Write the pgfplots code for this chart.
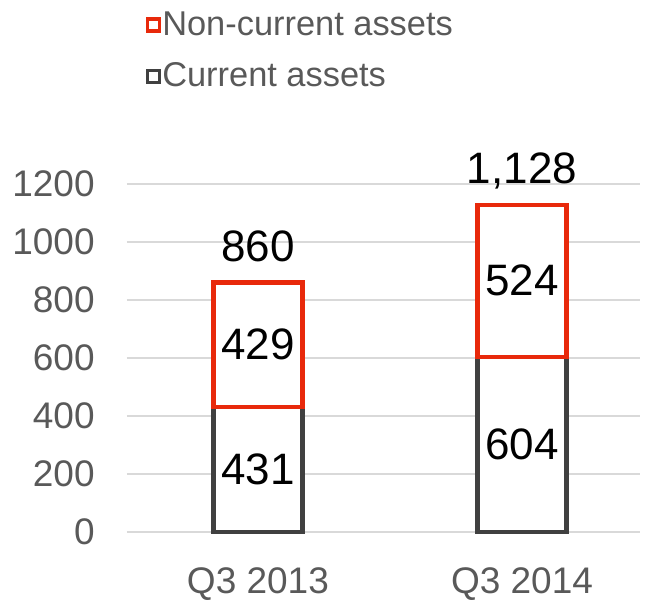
\documentclass[border=0pt]{standalone}
\usepackage{fontspec}
\setmainfont{Liberation Sans}
\usepackage{pgfplots}
\usepackage{pgfplotstable}
\pgfplotsset{compat=1.18}
\definecolor{noncur}{HTML}{E8290B}
\definecolor{cur}{HTML}{404040}
\definecolor{txtgray}{HTML}{595959}
\definecolor{gridgray}{HTML}{D9D9D9}

\pgfplotstableread{
x cur noncur total
0 431 429 860
1 604 524 1128
}\assets

% label positions (middle of each segment)
\pgfplotstableread{
x mid label
0 215.5 431
1 302 604
0 645.5 429
1 866 524
}\seglabels

\pgfplotsset{
    frame/.style={scale only axis, width=256.5bp, height=174bp,
        xmin=-0.496, xmax=1.447, ymin=0, ymax=1200, clip=false},
}
\tikzset{valfont/.style={font=\fontsize{22bp}{26bp}\selectfont, text=black}}

\begin{document}
\begin{tikzpicture}
\begin{axis}[
    frame,
    ybar stacked,
    reverse stacked plots=false,
    bar width=44.5bp,
    xtick={0,1}, xticklabels={Q3 2013, Q3 2014},
    ytick={0,200,...,1200},
    ymajorgrids,
    major grid style={draw=gridgray, line width=0.6bp},
    axis line style={draw=none},
    major tick length=0pt,
    /pgf/number format/assume math mode=true,
    tick label style={font=\fontsize{18.5bp}{22bp}\selectfont, text=txtgray, inner sep=0pt},
    yticklabel style={xshift=-16bp, /pgf/number format/1000 sep={}},
    xticklabel style={yshift=-17.5bp},
    legend cell align=left,
    legend style={at={(rel axis cs:0.036,1.5)}, anchor=north west, draw=none, fill=none,
        inner sep=0pt, row sep=11bp, font=\fontsize{17.2bp}{20bp}\selectfont,
        nodes={inner sep=0.6bp, text=txtgray}},
    legend image code/.code={\draw[#1, line width=1.6bp, fill=white] (0bp,-3bp) rectangle (6bp,3bp);},
    reverse legend,
]
\addplot[draw=cur, fill=white, line width=2.2bp] table[x=x, y=cur] {\assets};
\addlegendentry{Current assets}
\addplot[draw=noncur, fill=white, line width=2.2bp] table[x=x, y=noncur] {\assets};
\addlegendentry{Non-current assets}
\end{axis}
\begin{axis}[frame, hide axis, /pgf/number format/assume math mode=true]
\addplot[only marks, mark=none, nodes near coords, point meta=explicit,
    every node near coord/.append style={anchor=center, valfont}]
    table[x=x, y=mid, meta=label] {\seglabels};
\addplot[only marks, mark=none,
    nodes near coords={\pgfmathprintnumber[1000 sep={,}]{\pgfplotspointmeta}},
    point meta=explicit,
    every node near coord/.append style={anchor=base, yshift=10.5bp, valfont}]
    table[x=x, y=total, meta=total] {\assets};
\end{axis}
\path (-63.5bp,-31.5bp) rectangle (260bp,266bp);
\end{tikzpicture}
\end{document}
